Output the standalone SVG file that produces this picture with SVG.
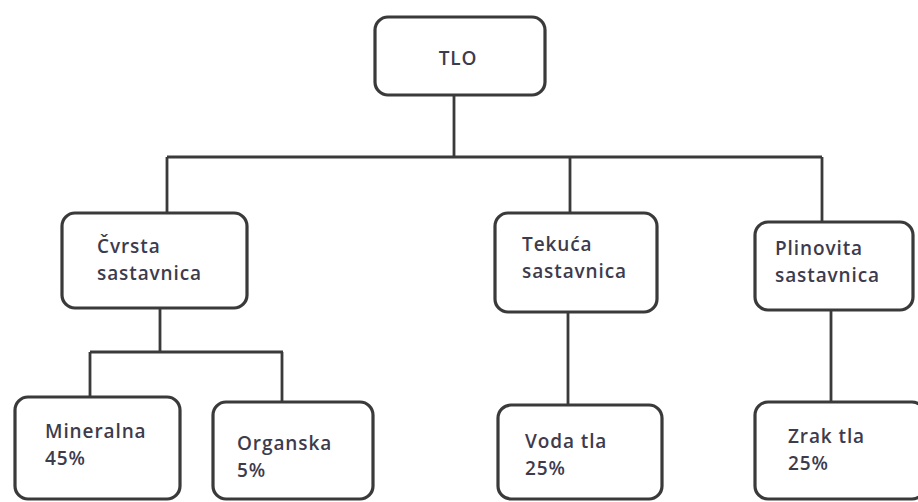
<svg xmlns="http://www.w3.org/2000/svg" width="918" height="502" viewBox="0 0 918 502">
<style>
.box{fill:#fff;stroke:#3a3a3a;stroke-width:3.2}
.t{font-family:"Open Sans","Liberation Sans",sans-serif;font-size:19px;font-weight:600;letter-spacing:0.9px;fill:#3d3b4c}
.c{fill:none;stroke:#3a3a3a;stroke-width:2.8}
</style>
<rect width="918" height="502" fill="#fff"/>
<g id="connectors">
<path class="c" d="M454 95V157M167 157H822M167 157V213M570 157V213M822 157V222"/>
<path class="c" d="M160 308V352M90 352H283M90 352V397M282 352V402"/>
<path class="c" d="M568 312V405M831 310V402"/>
</g>
<g id="tlo"><rect class="box" x="375" y="17" width="170" height="78" rx="13"/><text class="t" x="458" y="65" text-anchor="middle">TLO</text></g>
<g id="cvrsta"><rect class="box" x="62" y="213" width="185" height="95" rx="13"/><text class="t" x="97" y="253">Čvrsta</text><text class="t" x="97" y="280">sastavnica</text></g>
<g id="tekuca"><rect class="box" x="495" y="213" width="162" height="99" rx="13"/><text class="t" x="522" y="251">Tekuća</text><text class="t" x="522" y="278">sastavnica</text></g>
<g id="plinovita"><rect class="box" x="755" y="222" width="158" height="88" rx="13"/><text class="t" x="775" y="255">Plinovita</text><text class="t" x="775" y="282">sastavnica</text></g>
<g id="mineralna"><rect class="box" x="15" y="397" width="165" height="102" rx="13"/><text class="t" x="45" y="438">Mineralna</text><text class="t" x="45" y="465">45%</text></g>
<g id="organska"><rect class="box" x="213" y="402" width="160" height="97" rx="13"/><text class="t" x="237" y="450">Organska</text><text class="t" x="237" y="477">5%</text></g>
<g id="voda"><rect class="box" x="498" y="405" width="164" height="94" rx="13"/><text class="t" x="525" y="448">Voda tla</text><text class="t" x="525" y="475">25%</text></g>
<g id="zrak"><rect class="box" x="755" y="402" width="170" height="97" rx="13"/><text class="t" x="788" y="443">Zrak tla</text><text class="t" x="788" y="470">25%</text></g>
</svg>
